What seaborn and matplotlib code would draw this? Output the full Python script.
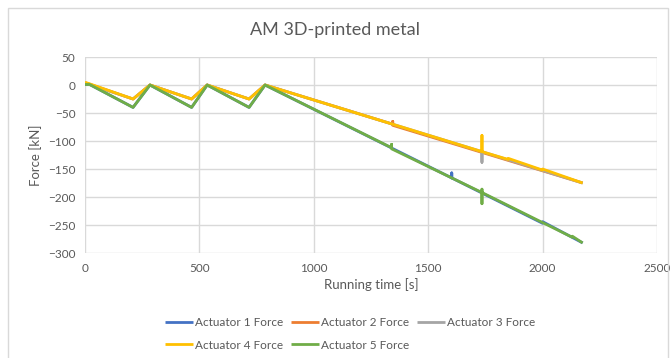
import matplotlib
matplotlib.use("Agg")
import matplotlib.pyplot as plt
import seaborn as sns
import pandas as pd
from matplotlib.patches import Rectangle

# ---- data ----
t1 = [0, 20, 210, 284, 466, 534, 717, 787, 1603, 1603, 1603, 2000, 2000, 2175]
f1 = [1, 1, -40, 0, -40, 0, -40, 0, -166, -157, -166, -247, -244, -282]

t2 = [0, 210, 284, 466, 534, 717, 787, 1345, 1345, 1345, 2175]
f2 = [4, -25, 0, -25, 0, -25, 0, -70, -65, -72, -175]

t3 = [0, 210, 284, 466, 534, 717, 787, 1735, 1735, 1735, 2175]
f3 = [4, -25, 0, -25, 0, -25, 0, -119, -138, -119, -175]

t4 = [0, 210, 284, 466, 534, 717, 787, 1735, 1735, 1735, 1850, 1850, 2000, 2000, 2175]
f4 = [5, -25, 0, -25, 0, -25, 0, -119, -90, -119, -133, -131, -152, -150, -175]

t5 = [0, 20, 210, 284, 466, 534, 717, 787, 1340, 1340, 1340, 1735, 1735, 1735, 1735, 2130, 2130, 2175]
f5 = [1, 1, -40, 0, -40, 0, -40, 0, -112, -106, -114, -192, -186, -212, -192, -272, -270, -282]

series_names = ["Actuator 1 Force", "Actuator 2 Force", "Actuator 3 Force",
                "Actuator 4 Force", "Actuator 5 Force"]
colors = ["#4472C4", "#ED7D31", "#A5A5A5", "#FFC000", "#70AD47"]

x_ticks = [0, 500, 1000, 1500, 2000, 2500]
y_ticks = [50, 0, -50, -100, -150, -200, -250, -300]

frames = []
for name, t, f in zip(series_names, [t1, t2, t3, t4, t5], [f1, f2, f3, f4, f5]):
    frames.append(pd.DataFrame({"time": t, "force": f, "series": name}))
df = pd.concat(frames, ignore_index=True)

# ---- style ----
sns.set_style("white")
plt.rcParams["font.family"] = ["Lato", "DejaVu Sans"]
txt = "#595959"

fig = plt.figure(figsize=(6.71, 3.58), dpi=100)
fig.patches.append(Rectangle((8 / 671, -0.1), (668 - 8) / 671, 1 - 8 / 358 + 0.1,
                             transform=fig.transFigure, fill=False,
                             edgecolor="#D9D9D9", linewidth=1))
ax = fig.add_axes([85 / 671, 1 - 253 / 358, (657 - 85) / 671, (253 - 57) / 358])

sns.lineplot(data=df, x="time", y="force", hue="series", hue_order=series_names,
             palette=colors, sort=False, estimator=None, units="series",
             linewidth=2, ax=ax, legend=True)
for ln in ax.get_lines():
    ln.set_solid_capstyle("butt")
    ln.set_solid_joinstyle("round")

ax.set_xlim(0, 2500)
ax.set_ylim(-300, 50)
ax.set_xticks(x_ticks)
ax.set_yticks(y_ticks)
ax.grid(True, color="#D9D9D9", linewidth=1)
ax.set_axisbelow(True)
for s in ax.spines.values():
    s.set_visible(False)
ax.tick_params(axis="both", length=0, labelsize=8.5, colors=txt, pad=7)
ax.set_xlabel("Running time [s]", fontsize=9.5, color=txt, labelpad=3)
ax.set_ylabel("Force [kN]", fontsize=9.5, color=txt, labelpad=4)
fig.text(335 / 671, 1 - 30 / 358, "AM 3D-printed metal", ha="center", va="center",
         fontsize=13, color=txt)

handles, labels = ax.get_legend_handles_labels()
ax.legend_.remove()
order = [0, 3, 1, 4, 2]
leg = fig.legend([handles[i] for i in order], [labels[i] for i in order],
                 ncol=3, loc="center", bbox_to_anchor=(350 / 671, 1 - 334 / 358),
                 frameon=False, fontsize=8.5, handlelength=2.4, handletextpad=0.2,
                 columnspacing=0.6, labelspacing=0.95, labelcolor=txt)

fig.savefig("out.png", dpi=100)
